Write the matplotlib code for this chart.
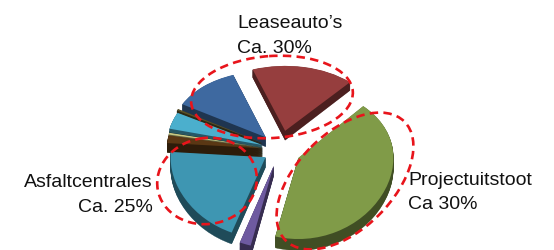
import numpy as np
import matplotlib.pyplot as plt
from matplotlib.patches import Ellipse
from matplotlib.colors import to_rgb

# slices, clockwise from the back (degrees, as %)
slices = ['Leaseauto red', 'Projectuitstoot', 'paars', 'Asfaltcentrales', 'bruin',
          'geelgroen', 'donker', 'lichtblauw', 'olijf', 'blauw']
values = [17.5, 41.9, 1.9, 20.3, 1.7, 0.4, 0.4, 3.9, 0.4, 11.5]
explode = [0.27, 0.22, 0.22, 0.18, 0.19, 0.19, 0.19, 0.2, 0.22, 0.23]
colors = ['#963e3e', '#809b48', '#6e5aa0', '#3e96b2', '#5a3714',
          '#c8c882', '#2a5a64', '#4bafcd', '#5a5028', '#3e69a0']

labels = [("Leaseauto\u2019s", "Ca. 30%"),
          ("Asfaltcentrales", "Ca. 25%"),
          ("Projectuitstoot", "Ca 30%")]

W, H = 554, 251
fig = plt.figure(figsize=(W / 100, H / 100), dpi=100)
ax = fig.add_axes([0, 0, 1, 1])

R = 95.0   # pie radius in px
kR = 74.0  # vertical px per unit at the centre
cx, cy = 280, 151
depth = 0.13
c = 0.08   # fake perspective: back squeezed, front stretched


def fwd(y):
    return y - c * y * y


def inv(y):
    return (1 - np.sqrt(np.maximum(1 - 4 * c * y, 0))) / (2 * c)


ax.set_yscale('function', functions=(fwd, inv))

side = [tuple(v * 0.5 for v in to_rgb(col)) for col in colors]

# side of the 3d pie: stack of darker copies
n = 14
for i in range(n):
    dz = depth * (1 - i / n)
    ax.pie(values, colors=side, explode=explode, startangle=110,
           counterclock=False, center=(0, -dz), radius=1,
           wedgeprops=dict(linewidth=0.3))
for w in ax.patches:
    w.set_edgecolor(w.get_facecolor())

ax.pie(values, colors=colors, explode=explode, startangle=110,
       counterclock=False, center=(0, 0), radius=1,
       wedgeprops=dict(linewidth=0))

ax.set_aspect('auto')
ax.set_xlim(-cx / R, (W - cx) / R)
ax.set_ylim(inv(-(H - cy) / kR), inv(cy / kR))
ax.axis('off')

# overlay in image pixel coordinates for rings and labels
ov = fig.add_axes([0, 0, 1, 1])
ov.set_xlim(0, W)
ov.set_ylim(H, 0)
ov.axis('off')
ov.patch.set_alpha(0)

red = '#e8141b'
ring_style = dict(fill=False, edgecolor=red, linewidth=1.9, linestyle=(0, (3.2, 2.0)))
ov.add_patch(Ellipse((272, 98), 162, 82, angle=-4, **ring_style))
ov.add_patch(Ellipse((345, 182), 168, 96, angle=-45, **ring_style))
ov.add_patch(Ellipse((207, 182), 100, 86, angle=-10, **ring_style))

font = dict(fontsize=14, family='Liberation Sans', color='#111111', va='baseline')
ov.text(237, 28, labels[0][0], ha='left', **font)
ov.text(237, 53, labels[0][1], ha='left', **font)
ov.text(153, 187, labels[1][0], ha='right', **font)
ov.text(153, 212, labels[1][1], ha='right', **font)
ov.text(408, 185, labels[2][0], ha='left', **font)
ov.text(408, 209, labels[2][1], ha='left', **font)

fig.savefig('out.png', dpi=100, facecolor='white')
